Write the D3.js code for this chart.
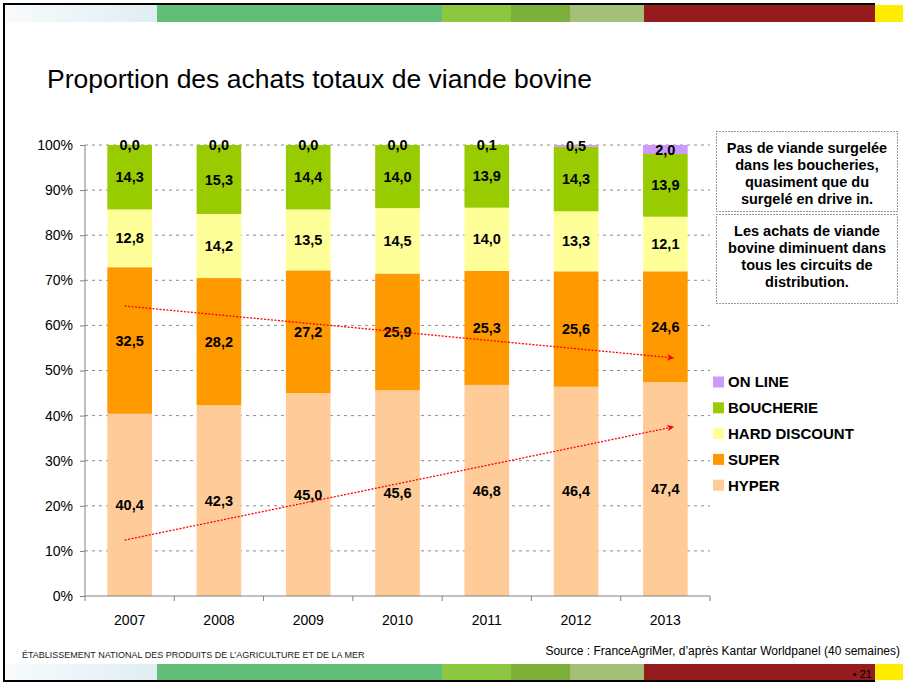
<!DOCTYPE html>
<html lang="fr">
<head>
<meta charset="utf-8">
<title>Proportion des achats totaux de viande bovine</title>
<script src="https://d3js.org/d3.v7.min.js"></script>
<style>
  body { margin: 0; background: #fff; }
  svg { display: block; font-family: "Liberation Sans", Arial, sans-serif; }
</style>
</head>
<body>
<svg width="903" height="682"></svg>
<script>
// data (bottom to top of each bar)
const years = ["2007", "2008", "2009", "2010", "2011", "2012", "2013"];
const series = ["HYPER", "SUPER", "HARD DISCOUNT", "BOUCHERIE", "ON LINE"];
const hyper = [40.4, 42.3, 45.0, 45.6, 46.8, 46.4, 47.4];
const superm = [32.5, 28.2, 27.2, 25.9, 25.3, 25.6, 24.6];
const hardDiscount = [12.8, 14.2, 13.5, 14.5, 14.0, 13.3, 12.1];
const boucherie = [14.3, 15.3, 14.4, 14.0, 13.9, 14.3, 13.9];
const online = [0.0, 0.0, 0.0, 0.0, 0.1, 0.5, 2.0];
const colors = ["#ffcc99", "#ff9900", "#ffff99", "#99cc00", "#cc99ff"];
const yTicks = [0, 10, 20, 30, 40, 50, 60, 70, 80, 90, 100];
// trend arrows: [year, percent] from -> to
const trendTop = [["2007", 64.3], ["2013", 52.8]];
const trendBottom = [["2007", 12.4], ["2013", 37.5]];
const note1 = ["Pas de viande surgelée", "dans les boucheries,", "quasiment que du", "surgelé en drive in."];
const note2 = ["Les achats de viande", "bovine diminuent dans", "tous les circuits de", "distribution."];

const svg = d3.select("svg");
const values = [hyper, superm, hardDiscount, boucherie, online];

// decorative bands
const band = [
  [5, 157, "url(#fade)"], [157, 442, "#62bd78"], [442, 511, "#8dc63f"],
  [511, 570, "#7cb03a"], [570, 644, "#a3bf78"], [644, 875, "#961b1f"], [875, 903, "#ffed00"]
];
const defs = svg.append("defs");
const grad = defs.append("linearGradient").attr("id", "fade");
grad.append("stop").attr("offset", "0%").attr("stop-color", "#f8fbfd");
grad.append("stop").attr("offset", "100%").attr("stop-color", "#dfeef1");
const mk = defs.append("marker").attr("id", "head")
  .attr("viewBox", "0 0 10 10").attr("refX", 9).attr("refY", 5)
  .attr("markerWidth", 10).attr("markerHeight", 7).attr("orient", "auto")
  .attr("markerUnits", "userSpaceOnUse");
mk.append("path").attr("d", "M0,0 L10,5 L0,10 L3,5 Z").attr("fill", "#ff0000");

svg.selectAll("rect.top").data(band).join("rect")
  .attr("x", d => d[0]).attr("y", 5).attr("width", d => d[1] - d[0]).attr("height", 17)
  .attr("fill", d => d[2]);
svg.selectAll("rect.bot").data(band).join("rect")
  .attr("x", d => d[0]).attr("y", 664).attr("width", d => d[1] - d[0]).attr("height", 16)
  .attr("fill", d => d[2]);
svg.append("line").attr("x1", 3).attr("x2", 875).attr("y1", 4).attr("y2", 4).attr("stroke", "#000").attr("stroke-width", 2);
svg.append("line").attr("x1", 3).attr("x2", 875).attr("y1", 681).attr("y2", 681).attr("stroke", "#000").attr("stroke-width", 2);
svg.append("line").attr("x1", 4).attr("x2", 4).attr("y1", 3).attr("y2", 682).attr("stroke", "#000").attr("stroke-width", 2);
svg.append("text").attr("x", 872).attr("y", 678).attr("text-anchor", "end")
  .attr("font-size", 11).attr("fill", "#000").text("• 21");

// title
svg.append("text").attr("x", 47).attr("y", 88).attr("font-size", 26.5).attr("fill", "#000")
  .text("Proportion des achats totaux de viande bovine");

// scales
const x = d3.scaleBand().domain(years).range([85, 710]).paddingInner(0.5).paddingOuter(0.25);
const xCat = d3.scaleBand().domain(years).range([85, 710]).padding(0);
const y = d3.scaleLinear().domain([0, 100]).range([596, 145]);

// gridlines
svg.append("g").selectAll("line").data(yTicks.filter(t => t > 0)).join("line")
  .attr("x1", 85).attr("x2", 710).attr("y1", d => y(d)).attr("y2", d => y(d))
  .attr("stroke", "#8c8c8c").attr("stroke-width", 1).attr("stroke-dasharray", "3,4");

// stacked bars
const rows = years.map((yr, i) => {
  const r = { year: yr };
  series.forEach((s, k) => r[s] = values[k][i]);
  return r;
});
const stacked = d3.stack().keys(series)(rows);
const layers = svg.append("g").selectAll("g").data(stacked).join("g")
  .attr("fill", (d, k) => colors[k]);
layers.selectAll("rect").data(d => d).join("rect")
  .attr("x", d => x(d.data.year))
  .attr("width", x.bandwidth())
  .attr("y", d => y(Math.min(100, d[1])))
  .attr("height", d => Math.max(0, y(Math.min(100, d[0])) - y(Math.min(100, d[1]))));

// labels
const fmt = v => v.toFixed(1).replace(".", ",");
const labels = svg.append("g").attr("font-size", 14.5).attr("font-weight", "bold")
  .attr("text-anchor", "middle").attr("fill", "#000");
stacked.forEach(layer => {
  layer.forEach(d => {
    const v = d[1] - d[0];
    const mid = Math.min(100, (d[0] + d[1]) / 2);
    labels.append("text")
      .attr("x", x(d.data.year) + x.bandwidth() / 2)
      .attr("y", y(mid))
      .attr("dy", "0.35em")
      .text(fmt(v));
  });
});

// axes
const yAxis = svg.append("g").attr("transform", "translate(85,0)")
  .call(d3.axisLeft(y).tickValues(yTicks).tickFormat(d => d + "%").tickSize(5).tickPadding(7));
yAxis.select(".domain").attr("stroke", "#808080").attr("d", "M0," + y(100) + "V" + y(0));
yAxis.selectAll(".tick line").attr("stroke", "#808080");
yAxis.selectAll("text").attr("font-size", 14).attr("font-family", "Liberation Sans, Arial, sans-serif").attr("fill", "#000");

const xAxis = svg.append("g").attr("transform", "translate(0," + y(0) + ")");
xAxis.append("line").attr("x1", 85).attr("x2", 710).attr("stroke", "#808080");
xAxis.selectAll("line.tk").data(years.concat(["end"])).join("line")
  .attr("x1", d => d === "end" ? 710 : xCat(d)).attr("x2", d => d === "end" ? 710 : xCat(d))
  .attr("y1", 0).attr("y2", 5).attr("stroke", "#808080");
xAxis.selectAll("text").data(years).join("text")
  .attr("x", d => xCat(d) + xCat.bandwidth() / 2).attr("y", 29)
  .attr("text-anchor", "middle").attr("font-size", 14).attr("fill", "#000").text(d => d);

// trend arrows
const arrowLine = d3.line()
  .x((d, i) => x(d[0]) + x.bandwidth() / 2 + (i === 0 ? -5 : 8))
  .y(d => y(d[1]));
[trendTop, trendBottom].forEach(t => {
  svg.append("path").attr("d", arrowLine(t)).attr("fill", "none")
    .attr("stroke", "#ff0000").attr("stroke-width", 1.3).attr("stroke-dasharray", "2,1.5")
    .attr("marker-end", "url(#head)");
});

// notes
function note(lines, top, h) {
  svg.append("rect").attr("x", 716.5).attr("y", top + 0.5).attr("width", 181).attr("height", h)
    .attr("fill", "#fff").attr("stroke", "#333").attr("stroke-width", 1).attr("stroke-dasharray", "1,2");
  svg.append("g").selectAll("text").data(lines).join("text")
    .attr("x", 807).attr("y", (d, i) => top + 22 + i * 17)
    .attr("text-anchor", "middle").attr("font-size", 14.5).attr("font-weight", "bold")
    .attr("fill", "#000").text(d => d);
}
note(note1, 131, 80);
note(note2, 214, 89);

// legend (top entry = ON LINE)
const legendRows = series.slice().reverse();
const lg = svg.append("g").selectAll("g").data(legendRows).join("g")
  .attr("transform", (d, i) => "translate(713," + (382 + i * 25.8) + ")");
lg.append("rect").attr("x", 0).attr("y", -5.5).attr("width", 11).attr("height", 11)
  .attr("fill", d => colors[series.indexOf(d)]);
lg.append("text").attr("x", 15).attr("dy", "0.36em").attr("font-size", 15)
  .attr("font-weight", "bold").attr("fill", "#000").text(d => d);

// footer
svg.append("text").attr("x", 22).attr("y", 658).attr("font-size", 9)
  .attr("font-family", "Liberation Sans Narrow, Arial Narrow, sans-serif")
  .attr("fill", "#222").text("ÉTABLISSEMENT NATIONAL DES PRODUITS DE L’AGRICULTURE ET DE LA MER");
svg.append("text").attr("x", 900).attr("y", 655).attr("text-anchor", "end").attr("font-size", 12)
  .attr("font-family", "Liberation Sans Narrow, Arial Narrow, sans-serif")
  .attr("fill", "#000").text("Source : FranceAgriMer, d’après Kantar Worldpanel (40 semaines)");
</script>
</body>
</html>
